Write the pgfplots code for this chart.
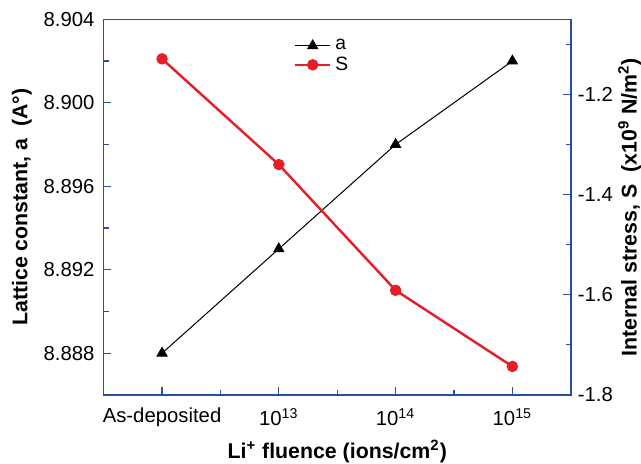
\documentclass[border=0pt]{standalone}
\usepackage{pgfplots}
\pgfplotsset{compat=1.18}
\usepackage{fontspec}
\setmainfont{Liberation Sans}
\definecolor{frame}{RGB}{45,75,165}
\definecolor{sred}{RGB}{230,30,40}

\begin{document}
\begin{tikzpicture}
\pgfplotsset{
  every axis/.append style={
    width=230pt, height=185pt, scale only axis,
    xmin=-0.5, xmax=3.5,
    font=\fontsize{10}{11}\selectfont,
    axis line style={frame, line width=0.75pt},
    every tick/.style={frame, line width=0.6pt},
    major tick length=3.8pt, minor tick length=2.4pt,
    /pgf/number format/assume math mode=true,
    label style={font=\fontsize{10.5}{12}\selectfont\bfseries},
  }
}
% lattice constant (left axis)
\begin{axis}[
  ymin=8.886, ymax=8.904,
  xtick={0,1,2,3},
  xticklabels={As-deposited, 10\textsuperscript{13}, 10\textsuperscript{14}, 10\textsuperscript{15}},
  minor xtick={0.5,1.5,2.5},
  xtick pos=bottom, ytick pos=left,
  xticklabel style={yshift=-3pt},
  ytick={8.888,8.892,8.896,8.900,8.904},
  minor ytick={8.886,8.890,8.894,8.898,8.902},
  yticklabel style={xshift=-1pt, /pgf/number format/.cd, fixed, zerofill, precision=3},
  xlabel={Li\textsuperscript{+} fluence (ions/cm\textsuperscript{2})},
  xlabel style={yshift=-3pt, inner ysep=0pt},
  ylabel={Lattice constant, a\ \ (A\textdegree)},
  ylabel style={yshift=-1pt},
]
\addplot [black, line width=0.5pt, mark=triangle*, mark size=2.8pt] coordinates {
  (0,8.888) (1,8.893) (2,8.898) (3,8.902)
};
\end{axis}
% internal stress (right axis)
\begin{axis}[
  ymin=-1.8, ymax=-1.05,
  axis x line=none,
  axis y line*=right,
  ytick={-1.8,-1.6,-1.4,-1.2},
  minor ytick={-1.7,-1.5,-1.3,-1.1},
  yticklabel style={/pgf/number format/.cd, fixed, zerofill, precision=1},
  ylabel={Internal stress, S\ \ (x10\textsuperscript{9} N/m\textsuperscript{2})},
  ylabel style={inner ysep=0pt, yshift=1pt},
  legend style={draw=none, fill=none, at={(0.47,0.97)}, anchor=north,
    font=\fontsize{9.5}{10}\selectfont, row sep=-2pt},
  legend cell align=left,
]
\addlegendimage{black, line width=0.5pt, mark=triangle*, mark size=2.8pt}
\addlegendentry{a}
\addplot [sred, line width=1.2pt, mark=*, mark size=2.2pt] coordinates {
  (0,-1.129) (1,-1.340) (2,-1.591) (3,-1.743)
};
\addlegendentry{S}
\end{axis}
\path ([yshift=9.5pt]current axis.north);
\path (current bounding box.west) ++(-2.5pt,0);
\end{tikzpicture}
\end{document}
